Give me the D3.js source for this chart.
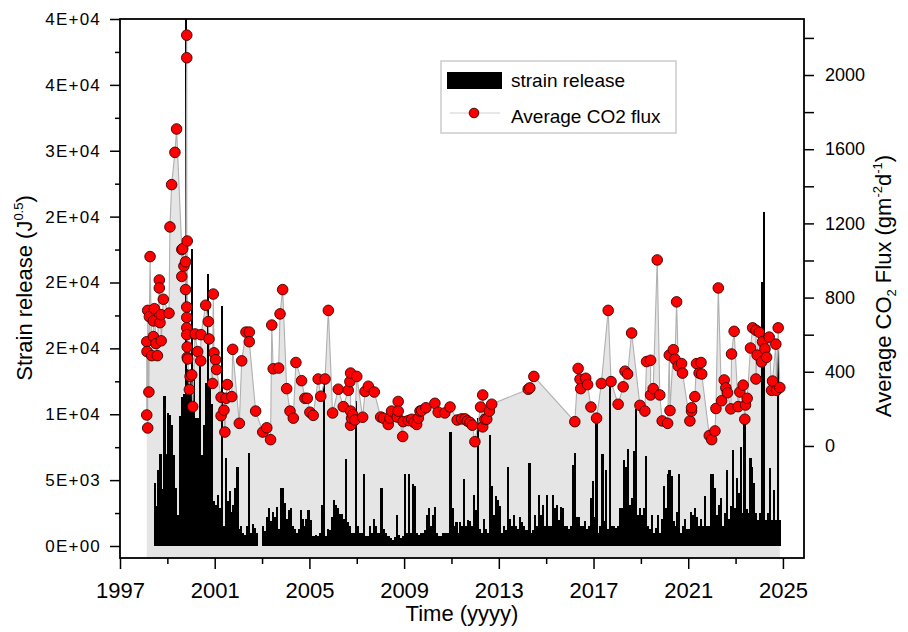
<!DOCTYPE html>
<html>
<head>
<meta charset="utf-8">
<script src="https://cdn.jsdelivr.net/npm/d3@7"></script>
<style>
  body { margin: 0; background: #fff; }
  text { font-family: "Liberation Sans", Arial, sans-serif; }
</style>
</head>
<body>
<svg id="chart" width="908" height="632"></svg>
<script>
// ---- data -------------------------------------------------------------
// monthly strain release (J^0.5), first bar = June 1998
const strainStart = 1998 + 5 / 12;
const strain1998to2004 = [
  4800, 3000, 5800, 7000, 4300, 11400, 7000,                                  // 1998 Jun-Dec
  10100, 9970, 9180, 6940, 4430, 2320, 9840, 11290, 11550, 41000, 13400, 13000, // 1999
  22580, 13140, 9710, 9710, 14510, 6940, 9180, 12350, 20650, 12610, 10760, 3380, // 2000
  3100, 3900, 2850, 18200, 1530, 6700, 3400, 4200, 2600, 3100, 4400, 6000,     // 2001
  1270, 1530, 1000, 870, 1530, 7070, 1000, 1660, 1400, 1000, 0, 0,             // 2002
  1530, 1130, 2190, 2850, 1930, 2600, 2190, 2980, 1270, 4430, 4430, 3240,      // 2003
  2060, 2720, 2900, 1530, 1270, 1000, 1270, 2720, 2060, 1500, 2060, 2720       // 2004
];
const strain2005to2011 = [
  2000, 740, 740, 800, 740, 1000, 3100, 12350, 740, 1270, 1200, 2190,          // 2005
  3510, 3110, 2850, 2450, 2450, 2060, 6600, 1790, 1530, 1000, 1000, 11030,     // 2006
  1530, 1000, 1000, 5490, 740, 740, 1530, 1000, 2060, 1530, 1000, 1000,        // 2007
  4430, 1270, 1000, 740, 740, 600, 480, 700, 2320, 800, 600, 740,              // 2008
  5430, 1000, 5490, 1000, 4700, 4560, 1000, 870, 1000, 1000, 1200, 2320,       // 2009
  2850, 1500, 2320, 2980, 1000, 740, 740, 1000, 1000, 1000, 1000, 8650,        // 2010
  2850, 1500, 1790, 1000, 1790, 1500, 5090, 1500, 1950, 1920, 1500, 3900       // 2011
];
const strain2012to2018 = [
  2720, 9700, 1270, 1000, 2060, 1270, 1000, 8390, 4560, 2320, 3770, 3510,      // 2012
  3000, 1000, 1530, 1200, 6010, 2060, 1500, 2320, 1500, 1270, 2190, 1800,      // 2013
  1530, 1200, 1200, 6280, 1000, 1200, 2320, 1500, 3900, 2320, 3110, 1500,      // 2014
  3900, 1530, 1530, 3900, 2850, 3110, 2000, 2980, 2850, 1530, 1530, 1270,      // 2015
  1530, 6150, 7070, 2190, 2190, 1530, 1500, 1930, 1270, 1500, 3640, 4960,      // 2016
  2190, 9580, 1000, 1500, 7000, 1930, 5750, 1270, 12350, 1530, 1500, 1400,     // 2017
  1500, 2850, 2850, 6540, 6010, 7330, 3110, 3640, 7200, 10370, 2320, 2850      // 2018
];
const strain2019to2024 = [
  2320, 2850, 6860, 1500, 1270, 2320, 1000, 1400, 2320, 1000, 2060, 4560,      // 2019
  2850, 5490, 5750, 5350, 1930, 1530, 2590, 5490, 1000, 1500, 2060, 1270,      // 2020
  1270, 2590, 2320, 2850, 2190, 1530, 2060, 1500, 3800, 1530, 1500, 5490,      // 2021
  5490, 4430, 2320, 3110, 3640, 1500, 2500, 5770, 2060, 3000, 7290, 2850,      // 2022
  5140, 4000, 7540, 2500, 9560, 2800, 2500, 6650, 6020, 4760, 2500, 2000,      // 2023
  2500, 20060, 25370, 2000, 2500, 5900, 2000, 4250, 2000, 14880, 2000          // 2024 Jan-Nov
];

// average CO2 flux samples (decimal year, g m-2 d-1)
const fluxTime = [
  1998.13, 1998.13, 1998.14, 1998.17, 1998.17, 1998.22, 1998.24, 1998.27, 1998.34, 1998.41,
  1998.41, 1998.45, 1998.52, 1998.58, 1998.66, 1998.66, 1998.69, 1998.73, 1998.74, 1998.83,
  1999.07, 1999.11, 1999.18, 1999.32, 1999.39, 1999.61, 1999.61, 1999.65, 1999.70, 1999.77,
  1999.77, 1999.82, 1999.82, 1999.82, 1999.82, 1999.82, 1999.82, 1999.84, 1999.84, 1999.84,
  1999.86, 1999.93, 1999.96, 2000.03, 2000.07, 2000.17, 2000.28, 2000.41, 2000.42, 2000.62,
  2000.73, 2000.76, 2000.91, 2000.94, 2000.97, 2001.04, 2001.08, 2001.27, 2001.27, 2001.39,
  2001.43, 2001.48, 2001.53, 2001.72, 2001.76, 2002.04, 2002.14, 2002.32, 2002.46, 2002.46,
  2002.73, 2003.03, 2003.20, 2003.36, 2003.41, 2003.47, 2003.70, 2003.76, 2003.87, 2004.04,
  2004.18, 2004.32, 2004.43, 2004.67, 2004.81, 2004.91, 2005.02, 2005.16, 2005.37, 2005.48,
  2005.66, 2005.80, 2005.98, 2006.22, 2006.43, 2006.64, 2006.71, 2006.74, 2006.74, 2006.74,
  2006.78, 2006.83, 2006.92, 2007.00, 2007.25, 2007.35, 2007.49, 2007.74, 2008.01, 2008.12,
  2008.33, 2008.40, 2008.47, 2008.71, 2008.75, 2008.75, 2008.94, 2008.96, 2009.18, 2009.32,
  2009.42, 2009.53, 2009.60, 2009.67, 2009.74, 2009.92, 2010.30, 2010.44, 2010.72, 2010.94,
  2011.24, 2011.43, 2011.57, 2011.67, 2011.78, 2011.88, 2011.99, 2012.23, 2012.32, 2012.32,
  2012.41, 2012.49, 2012.60, 2012.70, 2014.24, 2014.31, 2014.48, 2016.21, 2016.35, 2016.43,
  2016.46, 2016.67, 2016.75, 2016.89, 2017.13, 2017.33, 2017.62, 2017.74, 2018.04, 2018.25,
  2018.33, 2018.44, 2018.61, 2018.96, 2019.17, 2019.24, 2019.41, 2019.41, 2019.52, 2019.69,
  2019.80, 2019.90, 2020.13, 2020.20, 2020.23, 2020.37, 2020.44, 2020.51, 2020.58, 2020.72,
  2020.76, 2021.07, 2021.14, 2021.14, 2021.28, 2021.35, 2021.46, 2021.54, 2021.57, 2021.89,
  2021.99, 2022.13, 2022.17, 2022.27, 2022.41, 2022.52, 2022.59, 2022.66, 2022.80, 2022.83,
  2022.94, 2023.11, 2023.18, 2023.32, 2023.39, 2023.42, 2023.49, 2023.63, 2023.72, 2023.86,
  2023.86, 2023.91, 2024.00, 2024.10, 2024.14, 2024.24, 2024.31, 2024.42, 2024.52, 2024.56,
  2024.70, 2024.73, 2024.80, 2024.87
];
const fluxValue = [
  167, 562, 509, 97, 731, 291, 697, 1021, 487, 590,
  674, 740, 552, 487, 895, 852, 665, 708, 567, 791,
  716, 1181, 1409, 1583, 1709, 1059, 914, 1064, 970, 993,
  843, 2215, 2093, 749, 693, 637, 600, 1105, 534, 478,
  469, 304, 375, 384, 212, 604, 509, 459, 600, 759,
  671, 577, 337, 819, 502, 465, 412, 263, 163, 193,
  75, 257, 331, 266, 521, 122, 459, 614, 614, 562,
  188, 75, 98, 34, 652, 416, 420, 712, 843, 309,
  188, 150, 450, 352, 257, 257, 182, 165, 361, 268,
  361, 731, 178, 306, 212, 300, 347, 393, 188, 112,
  150, 169, 140, 375, 155, 294, 322, 291, 156, 150,
  116, 150, 188, 156, 240, 188, 51, 131, 137, 144,
  127, 116, 150, 188, 191, 206, 230, 182, 178, 210,
  140, 146, 146, 135, 127, 112, 23, 210, 103, 275,
  144, 144, 188, 225, 306, 313, 375, 131, 418, 360,
  309, 365, 331, 210, 150, 337, 731, 347, 225, 319,
  403, 388, 609, 219, 188, 455, 462, 275, 309, 1003,
  275, 135, 122, 490, 191, 519, 468, 777, 431, 444,
  393, 135, 188, 206, 266, 444, 393, 450, 388, 56,
  34, 81, 202, 852, 244, 356, 313, 287, 200, 496,
  618, 212, 291, 328, 144, 221, 257, 528, 637, 624,
  361, 490, 613, 453, 562, 524, 478, 587, 300, 350,
  549, 300, 637, 315
];

// axis ticks
const yearTicks = [1997, 2001, 2005, 2009, 2013, 2017, 2021, 2025];
const yearMinorTicks = [1999, 2003, 2007, 2011, 2015, 2019, 2023];
const strainTicks = [0, 5000, 10000, 15000, 20000, 25000, 30000, 35000, 40000];
const strainTickLabels = ["0E+00", "5E+03", "1E+04", "2E+04", "2E+04", "2E+04", "3E+04", "4E+04", "4E+04"];
const strainMinorTicks = [2500, 7500, 12500, 17500, 22500, 27500, 32500, 37500];
const fluxTicks = [0, 400, 800, 1200, 1600, 2000];
const fluxMinorTicks = [200, 600, 1000, 1400, 1800, 2200];

// ---- layout -----------------------------------------------------------
const plot = { left: 120, right: 804, top: 19, bottom: 558 };
const svg = d3.select('#chart');

const x = d3.scaleLinear().domain([1997, 2025.89]).range([plot.left, plot.right]);
const yStrain = d3.scaleLinear().domain([-911, 40000]).range([plot.bottom, plot.top]);
const yFlux = d3.scaleLinear().domain([-604, 2302]).range([plot.bottom, plot.top]);

const strain = [].concat(strain1998to2004, strain2005to2011, strain2012to2018, strain2019to2024)
  .map((v, i) => ({ t: strainStart + i / 12, v }));
const flux = fluxTime.map((t, i) => ({ t, v: fluxValue[i] }));

svg.append('defs').append('clipPath').attr('id', 'plotClip')
  .append('rect')
  .attr('x', plot.left).attr('y', plot.top)
  .attr('width', plot.right - plot.left).attr('height', plot.bottom - plot.top);

const g = svg.append('g').attr('clip-path', 'url(#plotClip)');

// gray area under the flux line
g.append('path')
  .datum(flux)
  .attr('fill', '#e5e5e5')
  .attr('d', d3.area().x(d => x(d.t)).y0(plot.bottom).y1(d => yFlux(d.v)));

// strain release bars (touching, so the low ones read as a solid band)
g.append('g')
  .attr('shape-rendering', 'crispEdges')
  .selectAll('rect.bar')
  .data(strain)
  .join('rect')
  .attr('class', 'bar')
  .attr('x', d => x(d.t))
  .attr('width', d => x(d.t + 1 / 12) - x(d.t) + 0.15)
  .attr('y', d => yStrain(d.v))
  .attr('height', d => yStrain(0) - yStrain(d.v))
  .attr('fill', '#000');

// flux line + markers
g.append('path')
  .datum(flux)
  .attr('fill', 'none')
  .attr('stroke', '#b0b0b0')
  .attr('stroke-width', 1.1)
  .attr('d', d3.line().x(d => x(d.t)).y(d => yFlux(d.v)));

g.selectAll('circle.pt')
  .data(flux)
  .join('circle')
  .attr('class', 'pt')
  .attr('cx', d => x(d.t))
  .attr('cy', d => yFlux(d.v))
  .attr('r', 5.3)
  .attr('fill', '#ff0000')
  .attr('stroke', '#3a0000')
  .attr('stroke-width', 0.9);

// ---- axes -------------------------------------------------------------
function styleAxis(sel, size) {
  sel.attr('font-family', '"Liberation Sans", Arial, sans-serif').attr('font-size', size);
  sel.select('.domain').remove();
  sel.selectAll('line').attr('stroke', '#000').attr('stroke-width', 1.5);
  sel.selectAll('text').attr('fill', '#000');
}

svg.append('g')
  .attr('transform', `translate(${plot.left},0)`)
  .call(d3.axisLeft(yStrain).tickValues(strainMinorTicks).tickFormat('').tickSize(5))
  .call(s => styleAxis(s, 17));
svg.append('g')
  .attr('transform', `translate(${plot.left},0)`)
  .call(d3.axisLeft(yStrain).tickValues(strainTicks)
    .tickFormat((d, i) => strainTickLabels[i]).tickSize(10).tickPadding(9))
  .call(s => styleAxis(s, 17))
  .call(s => s.selectAll('text').attr('letter-spacing', 1.2));

svg.append('g')
  .attr('transform', `translate(${plot.right},0)`)
  .call(d3.axisRight(yFlux).tickValues(fluxMinorTicks).tickFormat('').tickSize(10))
  .call(s => styleAxis(s, 18));
svg.append('g')
  .attr('transform', `translate(${plot.right},0)`)
  .call(d3.axisRight(yFlux).tickValues(fluxTicks).tickFormat(d3.format('d')).tickSize(10).tickPadding(11))
  .call(s => styleAxis(s, 18));

svg.append('g')
  .attr('transform', `translate(0,${plot.bottom})`)
  .call(d3.axisBottom(x).tickValues(yearMinorTicks).tickFormat('').tickSize(6))
  .call(s => styleAxis(s, 22));
svg.append('g')
  .attr('transform', `translate(0,${plot.bottom})`)
  .call(d3.axisBottom(x).tickValues(yearTicks).tickFormat(d3.format('d')).tickSize(11).tickPadding(13))
  .call(s => styleAxis(s, 22));

// frame
svg.append('rect')
  .attr('x', plot.left).attr('y', plot.top)
  .attr('width', plot.right - plot.left).attr('height', plot.bottom - plot.top)
  .attr('fill', 'none').attr('stroke', '#000').attr('stroke-width', 1.8);

// ---- titles -----------------------------------------------------------
svg.append('text')
  .attr('x', 462).attr('y', 621)
  .attr('text-anchor', 'middle').attr('font-size', 22)
  .text('Time (yyyy)');

const leftTitle = svg.append('text')
  .attr('transform', 'translate(32,288) rotate(-90)')
  .attr('text-anchor', 'middle').attr('font-size', 22);
leftTitle.append('tspan').text('Strain release (J');
leftTitle.append('tspan').attr('font-size', 13).attr('dy', -9).text('0.5');
leftTitle.append('tspan').attr('dy', 9).text(')');

const rightTitle = svg.append('text')
  .attr('transform', 'translate(891,286) rotate(-90)')
  .attr('text-anchor', 'middle').attr('font-size', 22);
rightTitle.append('tspan').text('Average CO');
rightTitle.append('tspan').attr('font-size', 13).attr('dy', 5).text('2');
rightTitle.append('tspan').attr('dy', -5).text(' Flux (gm');
rightTitle.append('tspan').attr('font-size', 13).attr('dy', -9).text('-2');
rightTitle.append('tspan').attr('dy', 9).text('d');
rightTitle.append('tspan').attr('font-size', 13).attr('dy', -9).text('-1');
rightTitle.append('tspan').attr('dy', 9).text(')');

// ---- legend -----------------------------------------------------------
const legend = svg.append('g').attr('font-family', '"Open Sans", sans-serif').attr('font-size', 19);
legend.append('rect')
  .attr('x', 441).attr('y', 61).attr('width', 235).attr('height', 72)
  .attr('fill', '#fff').attr('stroke', '#cccccc').attr('stroke-width', 1.5);
legend.append('rect')
  .attr('x', 447).attr('y', 72).attr('width', 55).attr('height', 17).attr('fill', '#000');
legend.append('text').attr('x', 511).attr('y', 87).text('strain release');
legend.append('line')
  .attr('x1', 450).attr('x2', 500).attr('y1', 113).attr('y2', 113)
  .attr('stroke', '#cfcfcf').attr('stroke-width', 1.2);
legend.append('circle')
  .attr('cx', 474).attr('cy', 113).attr('r', 4.8)
  .attr('fill', '#ff0000').attr('stroke', '#3a0000').attr('stroke-width', 0.9);
legend.append('text').attr('x', 511).attr('y', 123).text('Average CO2 flux');
</script>
</body>
</html>
